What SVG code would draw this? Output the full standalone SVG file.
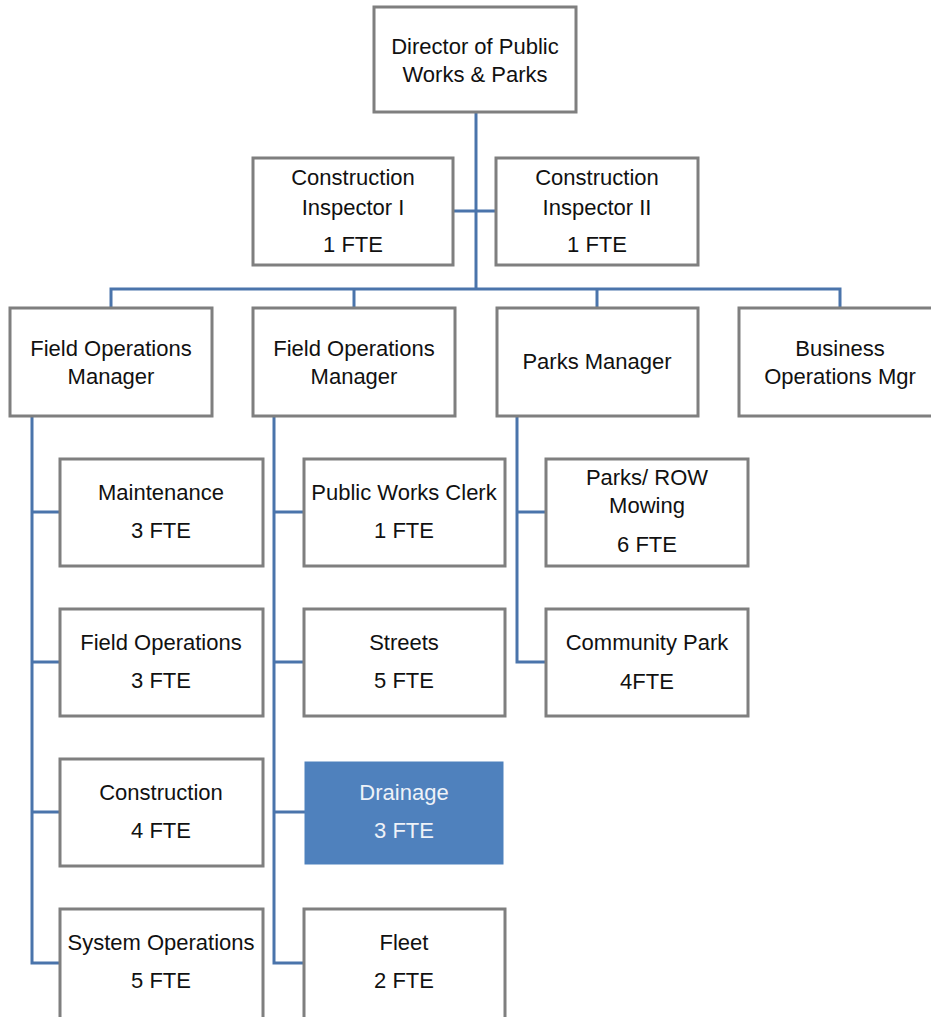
<svg xmlns="http://www.w3.org/2000/svg" width="931" height="1017" viewBox="0 0 931 1017">
<style>
.box{fill:#ffffff;stroke:#7f7f7f;stroke-width:3}
.hl{fill:#4f81bd;stroke:#4f81bd;stroke-width:1}
.t{font-family:"Liberation Sans",Arial,sans-serif;font-size:22px;fill:#111111;text-anchor:middle}
.tw{font-family:"Liberation Sans",Arial,sans-serif;font-size:22px;fill:#eef2f8;text-anchor:middle}
.c{fill:none;stroke:#4a74ab;stroke-width:3}
</style>
<rect width="931" height="1017" fill="#ffffff"/>
<g id="connectors">
<path class="c" d="M476 112 V290"/>
<path class="c" d="M453 211 H496"/>
<path class="c" d="M111 308 V289 H840 V308"/>
<path class="c" d="M354 289 V308"/>
<path class="c" d="M597 289 V308"/>
<path class="c" d="M32 417 V963 H60"/>
<path class="c" d="M32 512 H60 M32 662 H60 M32 812 H60"/>
<path class="c" d="M274 417 V963 H304"/>
<path class="c" d="M274 512 H304 M274 662 H304 M274 812 H305"/>
<path class="c" d="M517 417 V662 H546"/>
<path class="c" d="M517 512 H546"/>
</g>
<g id="director"><rect class="box" x="374" y="7" width="202" height="105"/><text class="t" x="475" y="54">Director of Public</text><text class="t" x="475" y="82">Works &amp; Parks</text></g>
<g id="inspector1"><rect class="box" x="253" y="158" width="200" height="107"/><text class="t" x="353" y="185">Construction</text><text class="t" x="353" y="215">Inspector I</text><text class="t" x="353" y="252">1 FTE</text></g>
<g id="inspector2"><rect class="box" x="496" y="158" width="202" height="107"/><text class="t" x="597" y="185">Construction</text><text class="t" x="597" y="215">Inspector II</text><text class="t" x="597" y="252">1 FTE</text></g>
<g id="fom1"><rect class="box" x="10" y="308" width="202" height="108"/><text class="t" x="111" y="356">Field Operations</text><text class="t" x="111" y="384">Manager</text></g>
<g id="fom2"><rect class="box" x="253" y="308" width="202" height="108"/><text class="t" x="354" y="356">Field Operations</text><text class="t" x="354" y="384">Manager</text></g>
<g id="parksmgr"><rect class="box" x="497" y="308" width="201" height="108"/><text class="t" x="597" y="369">Parks Manager</text></g>
<g id="bizops"><rect class="box" x="739" y="308" width="202" height="108"/><text class="t" x="840" y="356">Business</text><text class="t" x="840" y="384">Operations Mgr</text></g>
<g id="maintenance"><rect class="box" x="60" y="459" width="203" height="107"/><text class="t" x="161" y="500">Maintenance</text><text class="t" x="161" y="538">3 FTE</text></g>
<g id="fieldops"><rect class="box" x="60" y="609" width="203" height="107"/><text class="t" x="161" y="650">Field Operations</text><text class="t" x="161" y="688">3 FTE</text></g>
<g id="construction"><rect class="box" x="60" y="759" width="203" height="107"/><text class="t" x="161" y="800">Construction</text><text class="t" x="161" y="838">4 FTE</text></g>
<g id="sysops"><rect class="box" x="60" y="909" width="203" height="112"/><text class="t" x="161" y="950">System Operations</text><text class="t" x="161" y="988">5 FTE</text></g>
<g id="clerk"><rect class="box" x="304" y="459" width="201" height="107"/><text class="t" x="404" y="500">Public Works Clerk</text><text class="t" x="404" y="538">1 FTE</text></g>
<g id="streets"><rect class="box" x="304" y="609" width="201" height="107"/><text class="t" x="404" y="650">Streets</text><text class="t" x="404" y="688">5 FTE</text></g>
<g id="drainage"><rect class="hl" x="305" y="762" width="198" height="102"/><text class="tw" x="404" y="800">Drainage</text><text class="tw" x="404" y="838">3 FTE</text></g>
<g id="fleet"><rect class="box" x="304" y="909" width="201" height="112"/><text class="t" x="404" y="950">Fleet</text><text class="t" x="404" y="988">2 FTE</text></g>
<g id="mowing"><rect class="box" x="546" y="459" width="202" height="107"/><text class="t" x="647" y="485">Parks/ ROW</text><text class="t" x="647" y="513">Mowing</text><text class="t" x="647" y="552">6 FTE</text></g>
<g id="communitypark"><rect class="box" x="546" y="609" width="202" height="107"/><text class="t" x="647" y="650">Community Park</text><text class="t" x="647" y="689">4FTE</text></g>
</svg>
